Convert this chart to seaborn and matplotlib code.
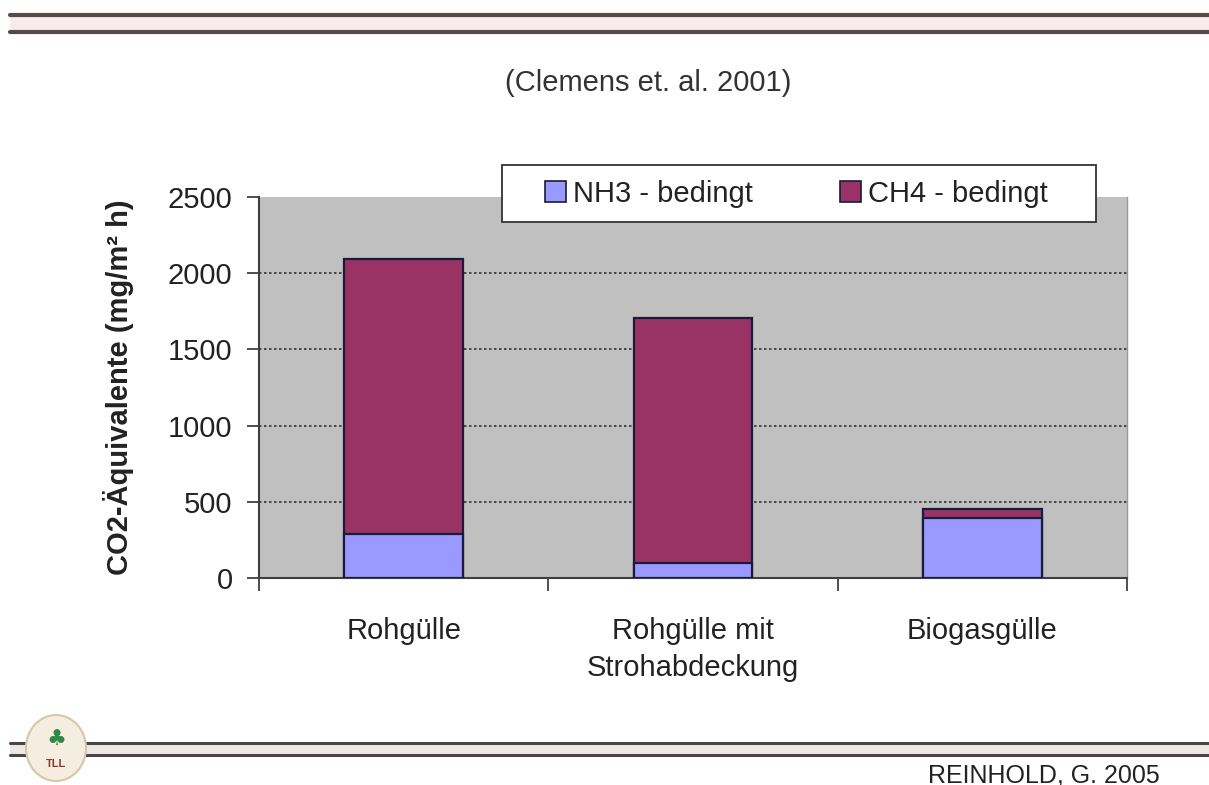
import matplotlib
matplotlib.use("Agg")
import matplotlib.pyplot as plt
import seaborn as sns
import pandas as pd
from matplotlib.patches import Patch, Rectangle, Ellipse
from matplotlib.lines import Line2D

# ---- data ----
categories = ["Rohgülle", "Rohgülle mit\nStrohabdeckung", "Biogasgülle"]
nh3_values = [290, 100, 395]
ch4_values = [1800, 1605, 55]
series_names = ["NH3 - bedingt", "CH4 - bedingt"]
y_ticks = [0, 500, 1000, 1500, 2000, 2500]
title_text = "(Clemens et. al. 2001)"
y_label = "CO2-Äquivalente (mg/m² h)"
credit_text = "REINHOLD, G. 2005"

totals = [a + b for a, b in zip(nh3_values, ch4_values)]
df = pd.DataFrame({"cat": categories, "nh3": nh3_values, "total": totals})

NH3_COLOR = "#9999FF"
CH4_COLOR = "#993366"
EDGE = "#1a1a3a"
FS = 21

sns.set_theme(style="white")
plt.rcParams["font.family"] = ["Liberation Sans", "DejaVu Sans"]

W, H = 1209, 785
fig = plt.figure(figsize=(W / 100, H / 100), dpi=100)
fig.patch.set_facecolor("white")

def fx(px):
    return px / W

def fy(py):
    return 1 - py / H

ax = fig.add_axes([fx(259), fy(578), (1127 - 259) / W, (578 - 197) / H])
ax.set_facecolor("#C0C0C0")

sns.barplot(data=df, x="cat", y="total", order=categories, color=CH4_COLOR,
            saturation=1, width=0.41, edgecolor=EDGE, linewidth=1.6,
            errorbar=None, ax=ax, zorder=3)
sns.barplot(data=df, x="cat", y="nh3", order=categories, color=NH3_COLOR,
            saturation=1, width=0.41, edgecolor=EDGE, linewidth=1.6,
            errorbar=None, ax=ax, zorder=4)

ax.set_ylim(0, 2500)
ax.set_xlim(-0.5, 2.5)
ax.set_yticks(y_ticks)
ax.set_yticklabels([str(t) for t in y_ticks], fontsize=FS, color="#222222")
ax.set_axisbelow(True)
ax.yaxis.grid(True, linestyle=(0, (1.5, 1.5)), color="#333333", linewidth=1.2)
for gl, t in zip(ax.get_ygridlines(), y_ticks):
    if t in (0, 2500):
        gl.set_visible(False)

ax.set_xticks([0, 1, 2])
ax.set_xticklabels(categories, fontsize=FS, color="#222222")
for lbl in ax.get_xticklabels():
    lbl.set_linespacing(1.4)
ax.set_xticks([-0.5, 0.5, 1.5, 2.5], minor=True)
ax.tick_params(axis="x", which="major", length=0, pad=28)
ax.tick_params(axis="x", which="minor", length=9, width=1.3, direction="out",
               color="#404040", bottom=True)
ax.tick_params(axis="y", which="major", length=9, width=1.3, direction="out",
               color="#404040", left=True, pad=10)
ax.set_xlabel("")
ax.set_ylabel(y_label, fontsize=FS, fontweight="bold", color="#222222")
ax.yaxis.set_label_coords((134 - 259) / (1127 - 259), 0.5)

for side in ("left", "bottom"):
    ax.spines[side].set_color("#404040")
    ax.spines[side].set_linewidth(1.5)
ax.spines["top"].set_visible(False)
ax.spines["right"].set_color("#9a9a9a")
ax.spines["right"].set_linewidth(1.0)

# legend frame (drawn separately so the padding can match)
fig.add_artist(Rectangle((fx(502), fy(222)), (1096 - 502) / W, (222 - 165) / H,
                         transform=fig.transFigure, facecolor="white",
                         edgecolor="#333333", linewidth=1.3, zorder=4))
handles = [Patch(facecolor=NH3_COLOR, edgecolor=EDGE, linewidth=1.2),
           Patch(facecolor=CH4_COLOR, edgecolor=EDGE, linewidth=1.2)]
leg = fig.legend(handles, series_names, loc="center left",
                 bbox_to_anchor=(fx(545), fy(193.5)), bbox_transform=fig.transFigure,
                 ncol=2, fontsize=FS, frameon=False,
                 handlelength=0.72, handleheight=0.72, handletextpad=0.24,
                 columnspacing=3.0, borderpad=0, borderaxespad=0)
leg.set_zorder(5)
for t in leg.get_texts():
    t.set_color("#222222")

fig.text(fx(648), fy(83), title_text, ha="center", va="center", fontsize=FS,
         color="#333333")
fig.text(fx(1160), fy(775), credit_text, ha="right", va="center", fontsize=18,
         color="#222222")

# header double rule
fig.add_artist(Rectangle((fx(10), fy(34)), 1 - fx(10), (34 - 13) / H,
                         transform=fig.transFigure, facecolor="#f7eceb",
                         edgecolor="none"))
for yy in (14.5, 32):
    fig.add_artist(Line2D([fx(10), 1], [fy(yy), fy(yy)], transform=fig.transFigure,
                          color="#554b4b", linewidth=3))

# footer rule
fig.add_artist(Rectangle((fx(10), fy(756)), 1 - fx(10), 14 / H,
                         transform=fig.transFigure, facecolor="#ece8e6",
                         edgecolor="none"))
for yy in (743, 755):
    fig.add_artist(Line2D([fx(10), 1], [fy(yy), fy(yy)], transform=fig.transFigure,
                          color="#4a4444", linewidth=2.2))

# logo
fig.add_artist(Ellipse((fx(56), fy(748)), 60 / W, 66 / H, transform=fig.transFigure,
                       facecolor="#f5eee0", edgecolor="#d6c7a8", linewidth=1.5,
                       zorder=5))
fig.text(fx(56), fy(740), "\u2663", ha="center", va="center", fontsize=16,
         color="#2f8a4a", zorder=6, family=["DejaVu Sans"])
fig.text(fx(56), fy(764), "TLL", ha="center", va="center", fontsize=8,
         fontweight="bold", color="#8b3a2a", zorder=6)

fig.savefig("out.png", dpi=100)
